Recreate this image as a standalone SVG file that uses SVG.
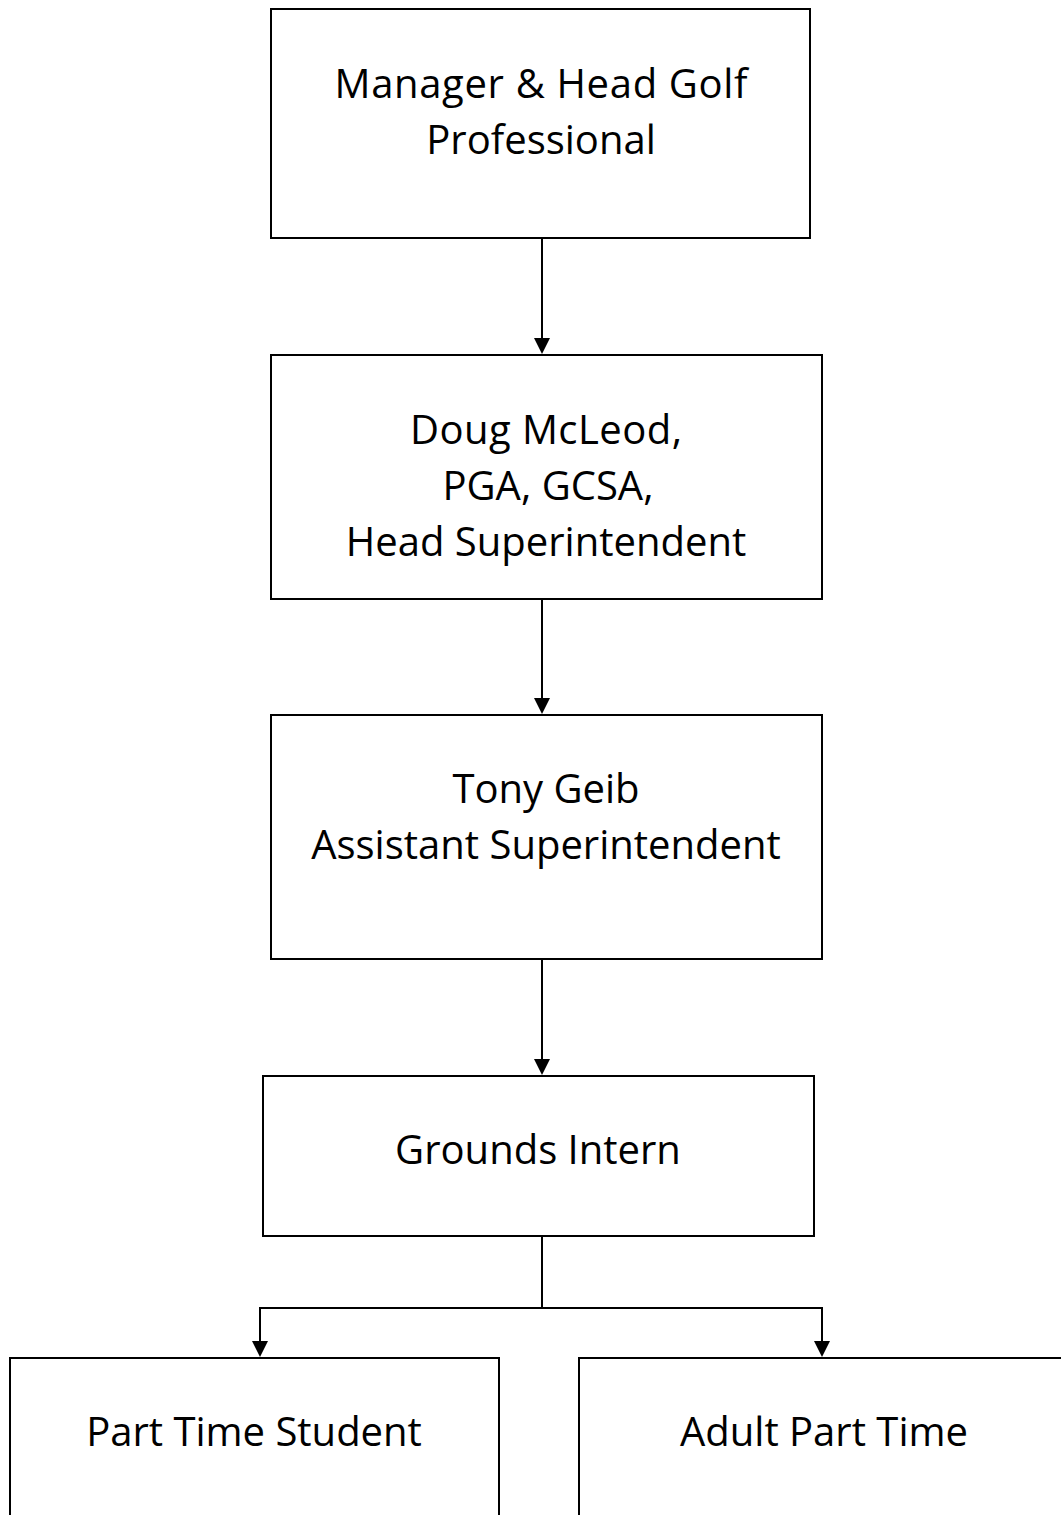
<svg xmlns="http://www.w3.org/2000/svg" width="1061" height="1515" viewBox="0 0 1061 1515">
<style>
.box{fill:#fff;stroke:#000;stroke-width:2}
.lbl{font-family:"Open Sans","Noto Sans",sans-serif;font-size:40px;fill:#000;text-anchor:middle}
.con{fill:none;stroke:#000;stroke-width:2}
.ah{fill:#000}
</style>
<rect width="1061" height="1515" fill="#fff"/>
<g id="connectors">
<path class="con" d="M542,238 V340"/>
<path class="ah" d="M534,338 L550,338 L542,354 Z"/>
<path class="con" d="M542,599 V700"/>
<path class="ah" d="M534,698 L550,698 L542,714 Z"/>
<path class="con" d="M542,959 V1061"/>
<path class="ah" d="M534,1059 L550,1059 L542,1075 Z"/>
<path class="con" d="M542,1236 V1308 M260,1308 H822 M260,1307 V1343 M822,1307 V1343"/>
<path class="ah" d="M252,1341 L268,1341 L260,1357 Z"/>
<path class="ah" d="M814,1341 L830,1341 L822,1357 Z"/>
</g>
<g id="n1"><rect class="box" x="271" y="9" width="539" height="229"/>
<text class="lbl" x="541" y="98" textLength="413" lengthAdjust="spacing">Manager &amp; Head Golf</text>
<text class="lbl" x="541" y="154">Professional</text></g>
<g id="n2"><rect class="box" x="271" y="355" width="551" height="244"/>
<text class="lbl" x="546" y="444" textLength="272" lengthAdjust="spacing">Doug McLeod,</text>
<text class="lbl" x="548" y="500"> PGA, GCSA,</text>
<text class="lbl" x="546" y="556">Head Superintendent</text></g>
<g id="n3"><rect class="box" x="271" y="715" width="551" height="244"/>
<text class="lbl" x="546" y="803">Tony Geib</text>
<text class="lbl" x="546" y="859">Assistant Superintendent</text></g>
<g id="n4"><rect class="box" x="263" y="1076" width="551" height="160"/>
<text class="lbl" x="538" y="1164">Grounds Intern</text></g>
<g id="n5"><rect class="box" x="10" y="1358" width="489" height="200"/>
<text class="lbl" x="254" y="1446">Part Time Student</text></g>
<g id="n6"><rect class="box" x="579" y="1358" width="520" height="200"/>
<text class="lbl" x="824" y="1446">Adult Part Time</text></g>
</svg>
